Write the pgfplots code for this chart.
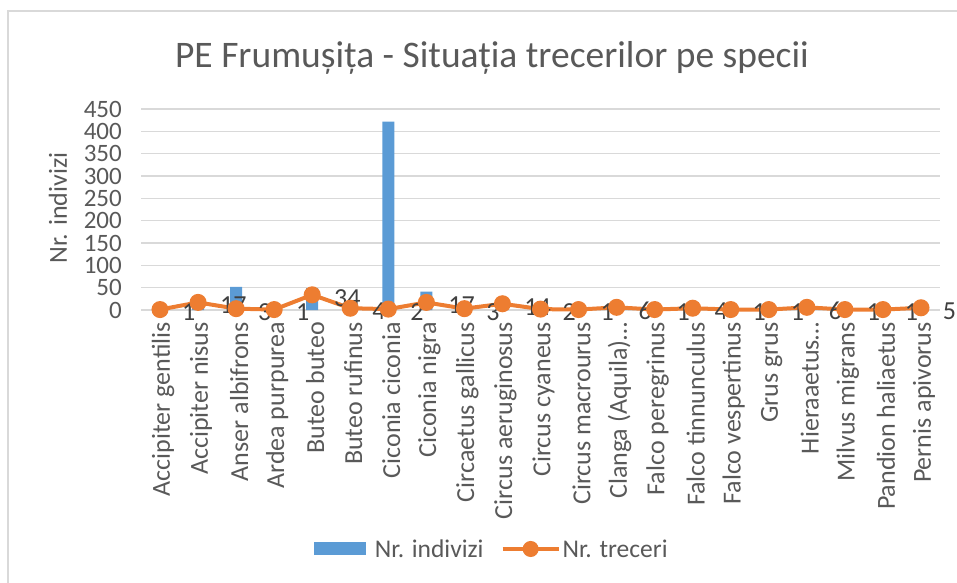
\documentclass[border=0pt]{standalone}
\usepackage{fontspec}
\setmainfont{Carlito}
\usepackage{pgfplots}
\pgfplotsset{compat=1.18}
\definecolor{cblue}{HTML}{5B9BD5}
\definecolor{corange}{HTML}{ED7D31}
\definecolor{tgray}{HTML}{595959}
\definecolor{lgray}{HTML}{404040}
\definecolor{ggray}{HTML}{D9D9D9}
\begin{document}
\begin{tikzpicture}[x=1pt,y=1pt]
\path[use as bounding box] (0,0) rectangle (957,582);
\draw[ggray, line width=1.5pt] (8,-5) -- (8,571) -- (965,571);
\node[font=\fontsize{37.5}{42}\selectfont, text=tgray] at (492,524) {PE Frumușița - Situația trecerilor pe specii};
\node[rotate=90, font=\fontsize{26}{30}\selectfont, text=tgray] at (58,374) {Nr. indivizi};
\begin{axis}[at={(141pt,272pt)}, anchor=south west, scale only axis,
  width=799pt, height=201pt,
  xmin=-0.5, xmax=20.5, ymin=0, ymax=450,
  ytick={0,50,...,450},
  xtick={0,...,20},
  xticklabels={Accipiter gentilis, Accipiter nisus, Anser albifrons, Ardea purpurea, Buteo buteo, Buteo rufinus, Ciconia ciconia, Ciconia nigra, Circaetus gallicus, Circus aeruginosus, Circus cyaneus, Circus macrourus, Clanga (Aquila)…, Falco peregrinus, Falco tinnunculus, Falco vespertinus, Grus grus, Hieraaetus…, Milvus migrans, Pandion haliaetus, Pernis apivorus},
  /pgf/number format/assume math mode=true,
  ymajorgrids, major grid style={ggray, line width=1.5pt},
  axis line style={draw=none}, major tick length=0pt,
  clip=false,
  yticklabel style={font=\fontsize{25}{27}\selectfont, text=tgray, anchor=east, inner sep=0pt, xshift=-19pt},
  xticklabel style={font=\fontsize{26}{28}\selectfont, text=tgray, yshift=-12pt, xshift=3pt, rotate=90, anchor=east, inner sep=0pt},
  legend columns=2,
  legend style={draw=none, at={(rel axis cs:0.439,-1.189)}, anchor=center,
    font=\fontsize{25.5}{28}\selectfont, text=tgray,
    /tikz/every even column/.append style={column sep=15pt}},
]
\addplot[ybar, bar width=12pt, fill=cblue, draw=none,
  legend image code/.code={\fill[cblue] (0pt,-6.5pt) rectangle (52pt,6.5pt); \path (59pt,0pt);}]
  coordinates {(0,1) (1,15) (2,52) (3,1) (4,49) (5,3) (6,422) (7,41) (8,3) (9,12) (10,2) (11,1) (12,5) (13,1) (14,3) (15,1) (16,1) (17,5) (18,1) (19,1) (20,4)};
\addlegendentry{Nr. indivizi}
\addplot[corange, line width=4pt, mark=*, mark size=6.5pt,
  mark options={fill=corange, draw=none},
  nodes near coords,
  every node near coord/.append style={anchor=west, xshift=20pt, yshift=-3pt, inner sep=0pt,
    font=\fontsize{26}{28}\selectfont, text=lgray},
  legend image code/.code={\draw[corange, line width=4pt] (0pt,0pt) -- (56pt,0pt); \fill[corange] (28pt,0pt) circle (6pt);}]
  coordinates {(0,1) (1,17) (2,3) (3,1) (4,34) (5,4) (6,2) (7,17) (8,3) (9,14) (10,2) (11,1) (12,6) (13,1) (14,4) (15,1) (16,1) (17,6) (18,1) (19,1) (20,5)};
\addlegendentry{Nr. treceri}
\end{axis}
\end{tikzpicture}
\end{document}
